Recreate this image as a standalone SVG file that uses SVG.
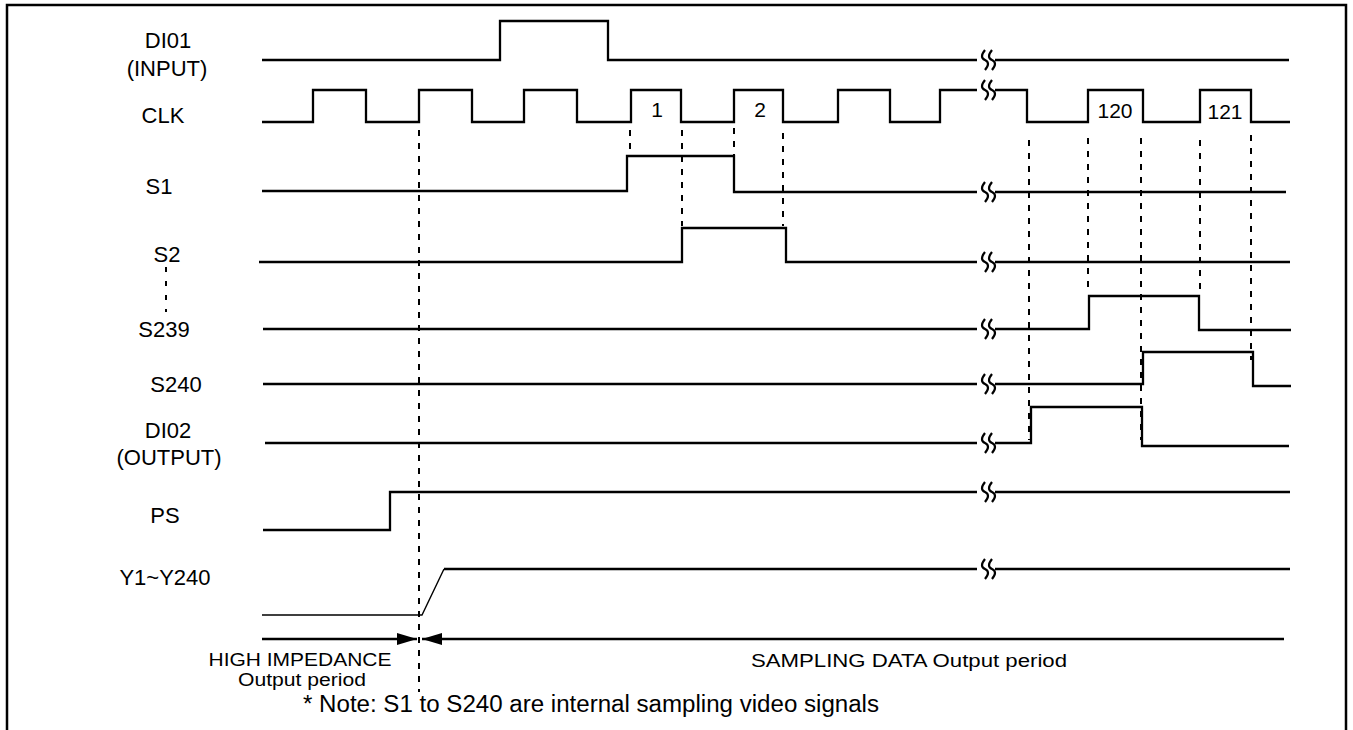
<svg xmlns="http://www.w3.org/2000/svg" xmlns:xlink="http://www.w3.org/1999/xlink" width="1353" height="730" viewBox="0 0 1353 730">
<style>
.sig{fill:none;stroke:#000;stroke-width:2.3;stroke-linejoin:miter}
.thin{fill:none;stroke:#000;stroke-width:1.4}
.dash{fill:none;stroke:#000;stroke-width:2;stroke-dasharray:6,7}
.dot{fill:none;stroke:#000;stroke-width:2;stroke-dasharray:5,9}
.brk{fill:none;stroke:#000;stroke-width:2.2}
.lbl{font-family:"Liberation Sans",Arial,sans-serif;font-size:22px;text-anchor:middle;fill:#000}
.num{font-family:"Liberation Sans",Arial,sans-serif;font-size:21px;text-anchor:middle;fill:#000}
.txt{font-family:"Liberation Sans",Arial,sans-serif;font-size:18px;text-anchor:middle;fill:#000}
.note{font-family:"Liberation Sans",Arial,sans-serif;font-size:23px;fill:#000}
</style>
<defs>
<g id="brk">
<path class="brk" d="M985,-10 C981,-5 981,-2 985,0 C989,2 989,5 985,10"/>
<path class="brk" d="M992,-10 C988,-5 988,-2 992,0 C996,2 996,5 992,10"/>
</g>
<marker id="ah" viewBox="0 0 20 12" refX="20" refY="6" markerWidth="20" markerHeight="12" markerUnits="userSpaceOnUse" orient="auto">
<path d="M0,0 L20,6 L0,12 Z" fill="#000"/>
</marker>
</defs>
<rect width="1353" height="730" fill="#fff"/>
<path d="M7,730 V5 H1346 V730" fill="none" stroke="#000" stroke-width="2.5"/>

<g id="labels">
<text class="lbl" x="168" y="48">DI01</text>
<text class="lbl" x="167" y="76">(INPUT)</text>
<text class="lbl" x="163" y="123">CLK</text>
<text class="lbl" x="159" y="194">S1</text>
<text class="lbl" x="167" y="262">S2</text>
<path class="dot" d="M166,267 V312"/>
<text class="lbl" x="164" y="337">S239</text>
<text class="lbl" x="176" y="392">S240</text>
<text class="lbl" x="168" y="438">DI02</text>
<text class="lbl" x="169" y="465">(OUTPUT)</text>
<text class="lbl" x="165" y="523">PS</text>
<text class="lbl" x="165" y="585">Y1~Y240</text>
</g>

<g id="sig-di01">
<path class="sig" d="M262,60 H500 V21 H608 V60 H977 M995,60 H1289"/>
<use xlink:href="#brk" transform="translate(0,60)"/>
</g>
<g id="sig-clk">
<path class="sig" d="M262,122 H313 V90 H366 V122 H419 V90 H472 V122 H524 V90 H577 V122 H631 V90 H681 V122 H734 V90 H783 V122 H838 V90 H890 V122 H940 V90 H977 M995,90 H1027 V122 H1088 V90 H1143 V122 H1200 V90 H1251 V122 H1290"/>
<use xlink:href="#brk" transform="translate(0,90)"/>
<text class="num" x="657" y="117">1</text>
<text class="num" x="760" y="117">2</text>
<text class="num" x="1115" y="118">120</text>
<text class="num" x="1225" y="119">121</text>
</g>
<g id="sig-s1">
<path class="sig" d="M262,191 H627 V156 H734 V192 H977 M995,192 H1286"/>
<use xlink:href="#brk" transform="translate(0,192)"/>
</g>
<g id="sig-s2">
<path class="sig" d="M259,262 H682 V228 H786 V262 H977 M995,262 H1290"/>
<use xlink:href="#brk" transform="translate(0,262)"/>
</g>
<g id="sig-s239">
<path class="sig" d="M263,329 H977 M995,329 H1089 V296 H1199 V330 H1291"/>
<use xlink:href="#brk" transform="translate(0,329)"/>
</g>
<g id="sig-s240">
<path class="sig" d="M263,384 H977 M995,384 H1143 V352 H1253 V386 H1291"/>
<use xlink:href="#brk" transform="translate(0,384)"/>
</g>
<g id="sig-di02">
<path class="sig" d="M265,443 H977 M995,443 H1031 V407 H1142 V446 H1289"/>
<use xlink:href="#brk" transform="translate(0,443)"/>
</g>
<g id="sig-ps">
<path class="sig" d="M263,530 H390 V492 H977 M995,492 H1290"/>
<use xlink:href="#brk" transform="translate(0,492)"/>
</g>
<g id="sig-y">
<path class="thin" d="M262,615 H422 L444,569"/>
<path class="sig" d="M444,569 H977 M995,569 H1290"/>
<use xlink:href="#brk" transform="translate(0,569)"/>
</g>

<g id="connectors">
<path class="dash" d="M419,130 V692"/>
<path class="dash" d="M630,130 V155"/>
<path class="dash" d="M682,130 V226"/>
<path class="dash" d="M734,128 V155"/>
<path class="dash" d="M783,133 V226"/>
<path class="dash" d="M1029,140 V440"/>
<path class="dash" d="M1088,138 V294"/>
<path class="dash" d="M1141,138 V440"/>
<path class="dash" d="M1200,140 V294"/>
<path class="dash" d="M1251,135 V360"/>
<path class="sig" d="M262,639 H417" marker-end="url(#ah)"/>
<path class="sig" d="M1284,639 H422" marker-end="url(#ah)"/>
</g>

<g id="period-labels">
<text class="txt" x="300" y="666" textLength="183" lengthAdjust="spacingAndGlyphs">HIGH IMPEDANCE</text>
<text class="txt" x="302" y="686" textLength="128" lengthAdjust="spacingAndGlyphs">Output period</text>
<text class="txt" x="909" y="667" textLength="316" lengthAdjust="spacingAndGlyphs">SAMPLING DATA Output period</text>
<text class="note" x="303" y="712" textLength="576" lengthAdjust="spacingAndGlyphs">* Note: S1 to S240 are internal sampling video signals</text>
</g>
</svg>
